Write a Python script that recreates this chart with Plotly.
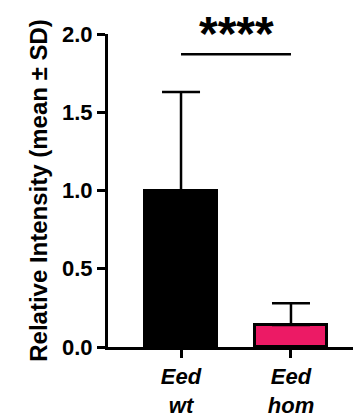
import plotly.graph_objects as go

categories = ["Eed wt", "Eed hom"]
tick_labels = ["<i>Eed</i><br><i>wt</i>", "<i>Eed</i><br><i>hom</i>"]
means = [1.0, 0.14]
sd = [0.63, 0.14]
colors = ["#000000", "#EC1A65"]
sig_label = "****"
sig_y = 1.87

FONT = "Liberation Sans, Arial, sans-serif"

fig = go.Figure()
fig.add_trace(go.Bar(
    x=[0, 1], y=means, width=0.66,
    marker=dict(color=colors, line=dict(color="black", width=3)),
    error_y=dict(type="data", symmetric=False, array=sd, arrayminus=[0, 0],
                 color="black", thickness=2.5, width=19),
))

fig.add_shape(type="line", x0=0, x1=1, y0=sig_y, y1=sig_y, xref="x", yref="y",
              line=dict(color="black", width=2.5))
fig.add_annotation(x=0.5, y=sig_y, xref="x", yref="y", text="<b>" + sig_label + "</b>",
                   showarrow=False, yanchor="bottom", yshift=-8,
                   font=dict(family=FONT, size=48, color="black"))

fig.update_layout(
    width=354, height=419,
    margin=dict(l=108, r=1, t=34, b=72),
    plot_bgcolor="white", paper_bgcolor="white",
    showlegend=False,
    bargap=0,
)
fig.update_xaxes(
    range=[-0.664, 1.564], tickmode="array", tickvals=[0, 1], ticktext=tick_labels,
    showline=True, linecolor="black", linewidth=3,
    ticks="outside", ticklen=8, tickwidth=3, tickcolor="black",
    showgrid=False, zeroline=False,
    tickfont=dict(family=FONT, size=22, color="black", weight="bold"),
)
fig.update_yaxes(
    range=[0, 2], tickvals=[0, 0.5, 1.0, 1.5, 2.0], ticktext=["0.0", "0.5", "1.0", "1.5", "2.0"],
    showline=True, linecolor="black", linewidth=3,
    ticks="outside", ticklen=8, tickwidth=3, tickcolor="black",
    showgrid=False, zeroline=False,
    tickfont=dict(family=FONT, size=22, color="black", weight="bold"),
    title=dict(text="Relative Intensity (mean ± SD)", standoff=8,
               font=dict(family=FONT, size=24, color="black", weight="bold")),
)

fig.write_html("out.html")
